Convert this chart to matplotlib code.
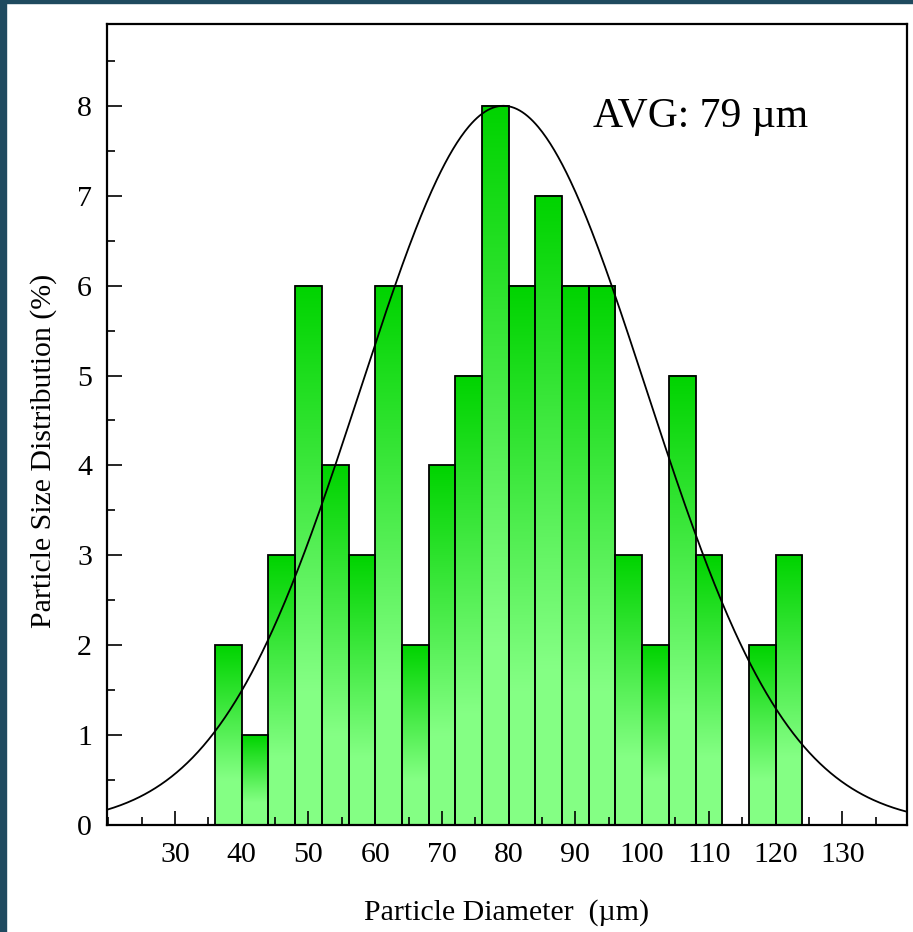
import numpy as np
import matplotlib
matplotlib.use("Agg")
import matplotlib.pyplot as plt
from matplotlib.patches import Rectangle
from matplotlib.ticker import MultipleLocator

# ---- data ----
bin_centers = [38, 42, 46, 50, 54, 58, 62, 66, 70, 74, 78, 82, 86, 90, 94, 98, 102, 106, 110, 114, 118, 122]
percent = [2, 1, 3, 6, 4, 3, 6, 2, 4, 5, 8, 6, 7, 6, 6, 3, 2, 5, 3, 0, 2, 3]
bin_width = 4
fit_mean = 79.2
fit_sigma = 21.4
fit_peak = 8.0
x_ticks = [30, 40, 50, 60, 70, 80, 90, 100, 110, 120, 130]
y_ticks = [0, 1, 2, 3, 4, 5, 6, 7, 8]

plt.rcParams['font.family'] = ['Liberation Serif', 'DejaVu Serif']

W, H = 913, 932
fig = plt.figure(figsize=(W / 100, H / 100), dpi=100, facecolor='white')

# dark frame strips (left and top)
border = '#1f4a5f'
fig.patches.append(Rectangle((0, 0), 6 / W, 1, transform=fig.transFigure, color=border, zorder=0))
fig.patches.append(Rectangle((0, 1 - 3 / H), 1, 3 / H, transform=fig.transFigure, color=border, zorder=0))

ax = fig.add_axes([107.3 / W, 1 - 825 / H, (906.7 - 107.3) / W, (825 - 24) / H])

# gradient bars
top_col = np.array([0.0, 0.83, 0.0])
bot_col = np.array([0.52, 1.0, 0.52])
t = np.linspace(0, 1, 256)
frac = np.clip(t / 0.75, 0, 1)[:, None]
grad = top_col[None, :] * (1 - frac) + bot_col[None, :] * frac  # row 0 = top
grad_img = grad[:, None, :]

for c, v in zip(bin_centers, percent):
    if v <= 0:
        continue
    x0, x1 = c - bin_width / 2, c + bin_width / 2
    ax.imshow(grad_img, extent=(x0, x1, 0, v), origin='upper', aspect='auto',
              interpolation='bilinear', zorder=0.9)
    ax.add_patch(Rectangle((x0, 0), bin_width, v, facecolor='none',
                           edgecolor='black', linewidth=1.3, zorder=1))

ax.set_xlim(19.85, 139.65)
ax.set_ylim(0, 8.91)

# fitted normal curve
xs = np.linspace(19.85, 139.65, 600)
ys = fit_peak * np.exp(-(xs - fit_mean) ** 2 / (2 * fit_sigma ** 2))
ax.plot(xs, ys, color='black', linewidth=1.3, zorder=3)

ax.text(108.8, 7.76, 'AVG: 79 \u00b5m', fontsize=30, ha='center', va='baseline')

ax.set_xticks(x_ticks)
ax.set_yticks(y_ticks)
ax.xaxis.set_minor_locator(MultipleLocator(5))
ax.yaxis.set_minor_locator(MultipleLocator(0.5))
ax.tick_params(axis='both', which='both', direction='in', top=False, right=False,
               width=1.2, labelsize=21.5)
ax.tick_params(axis='x', which='major', length=10, pad=12)
ax.tick_params(axis='x', which='minor', length=5.5)
ax.tick_params(axis='y', which='major', length=11, pad=11)
ax.tick_params(axis='y', which='minor', length=5.5)
for s in ax.spines.values():
    s.set_linewidth(1.6)

ax.set_xlabel('Particle Diameter  (\u00b5m)', fontsize=21.5)
ax.set_ylabel('Particle Size Distribution (%)', fontsize=21.5)
ax.xaxis.set_label_coords(0.5, -0.093)
ax.yaxis.set_label_coords(-0.063, 0.467)

fig.savefig('out.png', dpi=100, facecolor='white')
